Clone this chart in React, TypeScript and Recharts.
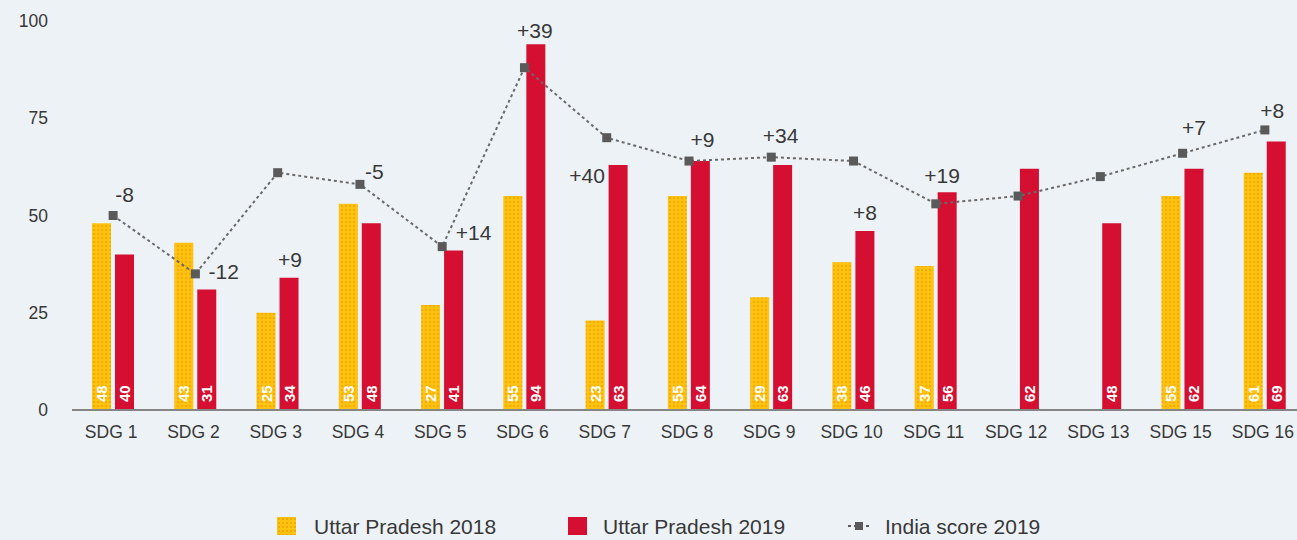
import React from 'react';
import {
  ComposedChart, Bar, Line, XAxis, YAxis, LabelList,
} from 'recharts';

const categories = [
  'SDG 1', 'SDG 2', 'SDG 3', 'SDG 4', 'SDG 5', 'SDG 6', 'SDG 7', 'SDG 8',
  'SDG 9', 'SDG 10', 'SDG 11', 'SDG 12', 'SDG 13', 'SDG 15', 'SDG 16',
];
const up2018: (number | null)[] = [48, 43, 25, 53, 27, 55, 23, 55, 29, 38, 37, null, null, 55, 61];
const up2019 = [40, 31, 34, 48, 41, 94, 63, 64, 63, 46, 56, 62, 48, 62, 69];
const india2019 = [50, 35, 61, 58, 42, 88, 70, 64, 65, 64, 53, 55, 60, 66, 72];
const changeLabels = ['-8', '-12', '+9', '-5', '+14', '+39', '+40', '+9', '+34', '+8', '+19', '', '', '+7', '+8'];
const yTicks = [0, 25, 50, 75, 100];

// where each change label sits relative to the top of the 2019 bar (dx, dy)
const changeOffsets: [number, number][] = [
  [0, -60], [17, -18], [1, -18], [3, -52], [20, -18], [-1, -14], [-31, 11], [2, -22],
  [-2, -29], [0, -19], [-5, -17], [0, 0], [0, 0], [0, -41], [-4, -31],
];

const FONT = '"Liberation Sans", Arial, Helvetica, sans-serif';
const TEXT = '#383838';
const YELLOW = '#ffc20e';
const DOT = '#f0a000';
const RED = '#d50f31';
const GREY = '#5a5a5a';
const BG = '#edf2f6';

const data = categories.map((name, i) => ({
  name,
  up2018: up2018[i],
  up2019: up2019[i],
  india: india2019[i],
}));

function BarValue(props: any) {
  const { x, y, width, height, value } = props;
  if (value == null) return null;
  const cx = Number(x) + Number(width) / 2;
  const by = Number(y) + Number(height) - 8;
  return (
    <text
      x={cx}
      y={by}
      transform={`rotate(-90, ${cx}, ${by})`}
      textAnchor="start"
      dominantBaseline="central"
      fill="#fff"
      fontSize={15}
      fontWeight={700}
      fontFamily={FONT}
    >
      {value}
    </text>
  );
}

function ChangeLabel(props: any) {
  const { x, y, width, value } = props;
  const i = categories.indexOf(value);
  if (i < 0 || !changeLabels[i]) return null;
  const [dx, dy] = changeOffsets[i];
  return (
    <text
      x={Number(x) + Number(width) / 2 + dx}
      y={Number(y) + dy}
      textAnchor="middle"
      dominantBaseline="central"
      fill={TEXT}
      fontSize={21}
      fontFamily={FONT}
    >
      {changeLabels[i]}
    </text>
  );
}

function SquareDot(props: any) {
  const { cx, cy } = props;
  if (cx == null || cy == null) return null;
  return <rect x={cx - 4.5} y={cy - 4.5} width={9} height={9} fill={GREY} />;
}

function XTick(props: any) {
  const { x, y, payload } = props;
  return (
    <text x={x - 2} y={y + 28} textAnchor="middle" fill={TEXT} fontSize={17.5} fontFamily={FONT}>
      {payload.value}
    </text>
  );
}

function YTick(props: any) {
  const { y, payload } = props;
  return (
    <text x={48} y={y} dy="0.35em" textAnchor="end" fill={TEXT} fontSize={17.5} fontFamily={FONT}>
      {payload.value}
    </text>
  );
}

function Swatch({ kind }: { kind: 'y' | 'r' | 'l' }) {
  if (kind === 'l') {
    return (
      <svg width={22} height={18} style={{ display: 'block' }}>
        <line x1={0} y1={9} x2={22} y2={9} stroke={GREY} strokeWidth={2} strokeDasharray="3 3" />
        <rect x={7} y={5} width={8} height={8} fill={GREY} />
      </svg>
    );
  }
  return (
    <svg width={19} height={18} style={{ display: 'block' }}>
      <defs>
        <pattern id="legDots" width={4} height={4} patternUnits="userSpaceOnUse">
          <rect width={4} height={4} fill={YELLOW} />
          <circle cx={2} cy={2} r={0.9} fill={DOT} />
        </pattern>
      </defs>
      <rect width={19} height={18} fill={kind === 'y' ? 'url(#legDots)' : RED} />
    </svg>
  );
}

const legendItems: { label: string; kind: 'y' | 'r' | 'l'; left: number; textLeft: number }[] = [
  { label: 'Uttar Pradesh 2018', kind: 'y', left: 277, textLeft: 314 },
  { label: 'Uttar Pradesh 2019', kind: 'r', left: 568, textLeft: 603 },
  { label: 'India score 2019', kind: 'l', left: 848, textLeft: 885 },
];

export default function App() {
  return (
    <div
      style={{
        position: 'fixed', left: 0, top: 0, width: 1297, height: 540,
        background: BG, overflow: 'hidden', fontFamily: FONT,
      }}
    >
      <ComposedChart
        width={1310}
        height={540}
        data={data}
        margin={{ top: 21, right: 4, bottom: 0, left: 12 }}
        barSize={19}
        barGap={4}
      >
        <defs>
          <pattern id="upDots" width={4} height={4} patternUnits="userSpaceOnUse">
            <rect width={4} height={4} fill={YELLOW} />
            <circle cx={2} cy={2} r={0.9} fill={DOT} />
          </pattern>
        </defs>
        <XAxis
          dataKey="name"
          height={130}
          tickSize={0}
          tickMargin={0}
          tick={XTick}
          axisLine={{ stroke: '#858585', strokeWidth: 2 }}
          interval={0}
        />
        <YAxis
          width={60}
          domain={[0, 100]}
          ticks={yTicks}
          tickSize={0}
          tick={YTick}
          axisLine={false}
        />
        <Bar dataKey="up2018" fill="url(#upDots)" isAnimationActive={false}>
          <LabelList dataKey="up2018" content={BarValue} />
        </Bar>
        <Bar dataKey="up2019" fill={RED} isAnimationActive={false}>
          <LabelList dataKey="up2019" content={BarValue} />
          <LabelList dataKey="name" content={ChangeLabel} />
        </Bar>
        <Line
          dataKey="india"
          type="linear"
          stroke="#6a6a6a"
          strokeWidth={2}
          strokeDasharray="3 3"
          dot={SquareDot}
          activeDot={false}
          isAnimationActive={false}
        />
      </ComposedChart>

      {legendItems.map((it) => (
        <React.Fragment key={it.label}>
          <div style={{ position: 'absolute', left: it.left, top: 517 }}>
            <Swatch kind={it.kind} />
          </div>
          <div
            style={{
              position: 'absolute', left: it.textLeft, top: 526, transform: 'translateY(-50%)',
              fontSize: 21, color: TEXT, lineHeight: 1, whiteSpace: 'nowrap',
            }}
          >
            {it.label}
          </div>
        </React.Fragment>
      ))}
    </div>
  );
}
